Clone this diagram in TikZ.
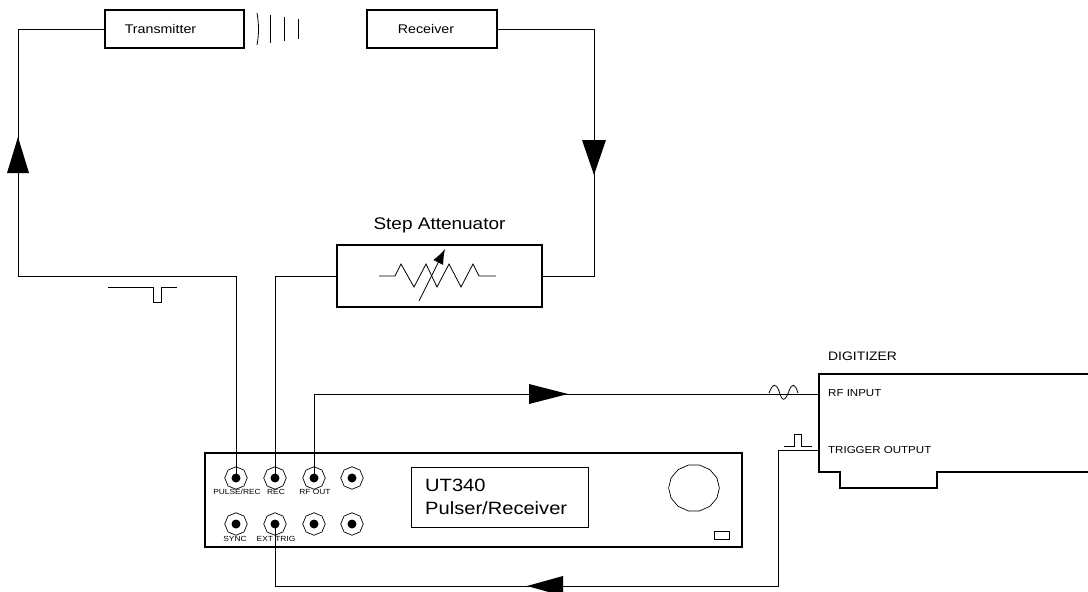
\documentclass[tikz,border=0pt]{standalone}
\usepackage{fontspec}
\setmainfont[FakeStretch=1.13]{Liberation Sans}
\usetikzlibrary{shapes.geometric,arrows.meta}
\tikzset{
  panelbox/.style={draw, line width=1.8pt, minimum width=#1, inner sep=0pt},
  wire/.style={line width=0.8pt},
  thick line/.style={line width=1.8pt},
  jack/.style={draw, line width=0.7pt, regular polygon, regular polygon sides=8, shape border rotate=22.5, minimum size=22.5pt, inner sep=0pt},
  jacklabel/.style={font=\fontsize{7.4}{8}\selectfont, inner sep=0pt},
  boxlabel/.style={font=\fontsize{12.6}{15}\selectfont, inner sep=0pt},
  cardlabel/.style={font=\fontsize{10.2}{12}\selectfont, anchor=west, inner sep=0pt},
}
\begin{document}
\begin{tikzpicture}[x=1pt, y=-1pt]
  \useasboundingbox (0,0) rectangle (1088,592);
  % top boxes
  \node[panelbox=139pt, minimum height=38pt] (transmitter) at (174.5,29) {};
  \node[boxlabel] (txlabel) at (160.5,29) {Transmitter};
  \node[panelbox=130pt, minimum height=38pt] (receiver) at (432,29) {};
  \node[boxlabel] (rxlabel) at (426,29) {Receiver};
  \draw[wire] (257,13) .. controls (259,24) and (259,34) .. (257,45);
  \foreach \ox/\oh in {270/14, 284/12, 298/10}
    \draw[wire] (\ox,29-\oh) -- (\ox,29+\oh);
  % attenuator
  \node[panelbox=205pt, minimum height=62pt] (attenuator) at (439.5,276) {};
  \node[inner sep=0pt, font=\fontsize{16.8}{20}\selectfont] (attlabel) at (439.5,225) {Step Attenuator};
  \draw[wire] (379,276) -- (395,276) -- (401,264) -- (414,287) -- (426,264) -- (437,287)
    -- (449,264) -- (461,287) -- (473,264) -- (479,276) -- (496,276);
  \draw[wire, -{Latex[length=15pt, width=11pt]}] (419,301) -- (445,249);
  % pulser/receiver
  \node[panelbox=537pt, minimum height=94pt] (pulser) at (473.5,500) {};
  \foreach \ox/\oy/\nm in {236/478/pulse, 275/478/rec, 314/478/rfout, 352/478/spareA,
      236/524/sync, 275/524/exttrig, 314/524/spareB, 352/524/spareC} {
    \node[jack] (\nm) at (\ox,\oy) {};
    \fill (\nm) circle (4.5);
  }
  \foreach \ox/\oy/\lab in {237/492/{PULSE/REC}, 276/492/{REC}, 315/492/{RF OUT},
      235/539/{SYNC}, 276/539/{EXT TRIG}}
    \node[jacklabel] at (\ox,\oy) {\lab};
  \node[draw, line width=0.8pt, minimum width=177pt, minimum height=60pt, inner sep=0pt] (display) at (499.5,497) {};
  \node[anchor=west, align=left, inner sep=0pt, font=\fontsize{17.8}{23}\selectfont] (displaytext) at (425,497) {UT340\\Pulser/Receiver};
  \node[draw, line width=0.7pt, regular polygon, regular polygon sides=14, minimum size=47pt, inner sep=0pt, xscale=1.08, transform shape] (knob) at (694,488) {};
  \node[draw, line width=0.7pt, minimum width=15pt, minimum height=8pt, inner sep=0pt] (lamp) at (721.5,535) {};
  % digitizer
  \draw[thick line] (1088,374) -- (819,374) -- (819,472) -- (840,472) -- (840,488) -- (937,488) -- (937,472) -- (1088,472);
  \node[cardlabel, font=\fontsize{12.3}{15}\selectfont] (digitizer) at (828,356) {DIGITIZER};
  \node[cardlabel] (rfinput) at (828,393) {RF INPUT};
  \node[cardlabel] (trigoutput) at (828,450) {TRIGGER OUTPUT};
  \coordinate (rfin) at (819,394);
  \coordinate (trigout) at (819,450);
  % wires
  \draw[wire] (transmitter.west) -- (18,29) -- (18,276) -- (pulse.center |- 0,276) -- (pulse.center);
  \draw[wire] (receiver.east) -- (594,29) -- (594,276) -- (attenuator.east);
  \draw[wire] (attenuator.west) -- (rec.center |- 0,276) -- (rec.center);
  \draw[wire] (rfout.center) -- (rfout.center |- rfin) -- (rfin);
  \draw[wire] (trigout) -- (778,450) -- (778,586) -- (exttrig.center |- 0,586) -- (exttrig.center);
  % arrow heads
  \fill (18,137) -- (29,173) -- (7,173) -- cycle;
  \fill (594,175) -- (582,140) -- (606,140) -- cycle;
  \fill (568,394) -- (529,384) -- (529,404) -- cycle;
  \fill (527,586) -- (563,576) -- (563,596) -- cycle;
  % pulses and wave
  \draw[wire] (108,287) -- (153,287) -- (153,302) -- (161,302) -- (161,287) -- (177,287);
  \draw[wire] (784,446) -- (794,446) -- (794,434) -- (801,434) -- (801,446) -- (812,446);
  \draw[wire] (769,393) .. controls (773,383) and (776,383) .. (779,391) .. controls (782,402) and (785,402) .. (789,391) .. controls (792,383) and (795,383) .. (798,393);
\end{tikzpicture}
\end{document}
